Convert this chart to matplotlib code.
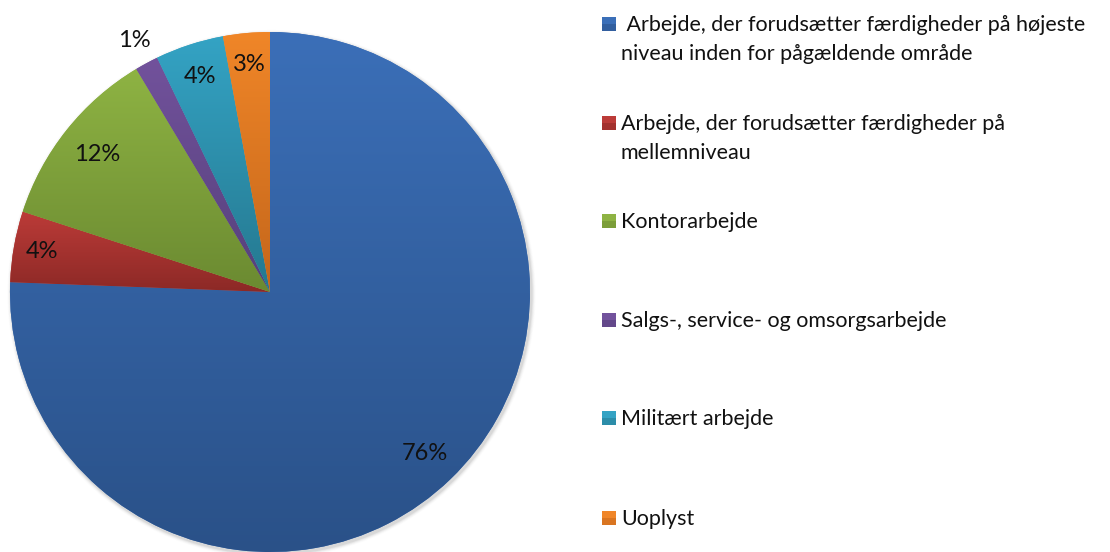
import numpy as np
import matplotlib
matplotlib.use("Agg")
import matplotlib.pyplot as plt
from matplotlib.colors import to_rgb
from matplotlib.patches import Rectangle

categories = [
    " Arbejde, der forudsætter færdigheder på højeste\nniveau inden for pågældende område",
    "Arbejde, der forudsætter færdigheder på\nmellemniveau",
    "Kontorarbejde",
    "Salgs-, service- og omsorgsarbejde",
    "Militært arbejde",
    "Uoplyst",
]
values = [75.6, 4.4, 11.4, 1.45, 4.25, 2.9]
pct_labels = ["76%", "4%", "12%", "1%", "4%", "3%"]
top_colors = ["#3B6FB8", "#BC3B38", "#8EB343", "#72529C", "#34A3C4", "#F08628"]
bottom_colors = ["#2A5188", "#8C2926", "#6B8A31", "#55407A", "#25788F", "#C4661B"]
label_dist = [0.86, 0.89, 0.85, 1.10, 0.87, 0.88]

plt.rcParams['font.family'] = ['Lato', 'DejaVu Sans']

W, H = 1110, 552
fig = plt.figure(figsize=(W / 100, H / 100), dpi=100)
ax = fig.add_axes([0, 0, 1, 1])
ax.set_xlim(0, W)
ax.set_ylim(0, H)
ax.set_aspect('equal')
ax.axis('off')

cx, cy, R = 270, 260, 260

# soft shadow
for i, a in enumerate(np.linspace(0.05, 0.01, 5)):
    sh = plt.Circle((cx + 1.5, cy - 2.0), R + 1 + i * 0.8, color='black', alpha=a, lw=0, zorder=0)
    ax.add_patch(sh)

wedges, _ = ax.pie(values, center=(cx, cy), radius=R, startangle=90, counterclock=False,
                   colors=top_colors, wedgeprops=dict(linewidth=0), frame=False)
ax.set_xlim(0, W)
ax.set_ylim(0, H)
ax.set_aspect('equal')

for w, ct, cb in zip(wedges, top_colors, bottom_colors):
    verts = w.get_path().vertices
    x0, y0 = verts.min(axis=0)
    x1, y1 = verts.max(axis=0)
    t = np.linspace(0, 1, 256)[:, None]
    c0 = np.array(to_rgb(cb)); c1 = np.array(to_rgb(ct))
    grad = (c0[None, :] * (1 - t) + c1[None, :] * t)[:, None, :]
    im = ax.imshow(grad, extent=(x0, x1, y0, y1), origin='lower', aspect='auto',
                   interpolation='bilinear', zorder=2)
    im.set_clip_path(w)

ax.set_xlim(0, W)
ax.set_ylim(0, H)
ax.set_aspect('equal')

for w, lab, d in zip(wedges, pct_labels, label_dist):
    mid = np.deg2rad((w.theta1 + w.theta2) / 2)
    ax.text(cx + d * R * np.cos(mid), cy + d * R * np.sin(mid), lab,
            ha='center', va='center', fontsize=17, color='#111111', zorder=5)

# legend
legend_y = [24, 123, 221, 320, 418, 518]
line_gap = 29
for lab, col, colb, yy in zip(categories, top_colors, bottom_colors, legend_y):
    ypix = H - yy
    ax.add_patch(Rectangle((602, ypix - 7), 14, 14, facecolor=col, edgecolor='none', zorder=5))
    ax.add_patch(Rectangle((602, ypix - 7), 14, 7, facecolor=colb, edgecolor='none', alpha=0.5, zorder=6))
    for k, line in enumerate(lab.split("\n")):
        ax.text(621, ypix - 7 - k * line_gap, line, ha='left', va='baseline', fontsize=15.5,
                color='#111111')

fig.savefig("out.png", dpi=100)
